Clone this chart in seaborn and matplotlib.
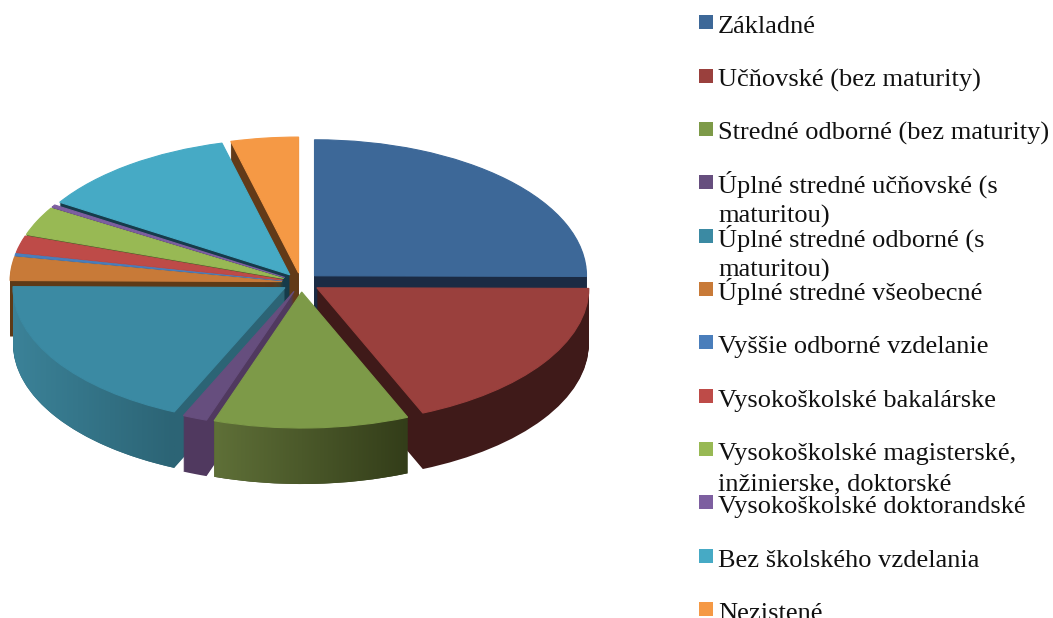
import numpy as np
import matplotlib
matplotlib.use("Agg")
import matplotlib.pyplot as plt
import seaborn as sns
from matplotlib.colors import to_rgb
from matplotlib.patches import Polygon, Rectangle

labels = [
    "Základné",
    "Učňovské (bez maturity)",
    "Stredné odborné (bez maturity)",
    "Úplné stredné učňovské (s\nmaturitou)",
    "Úplné stredné odborné (s\nmaturitou)",
    "Úplné stredné všeobecné",
    "Vyššie odborné vzdelanie",
    "Vysokoškolské bakalárske",
    "Vysokoškolské magisterské,\ninžinierske, doktorské",
    "Vysokoškolské doktorandské",
    "Bez školského vzdelania",
    "Nezistené",
]
shares = [25.0, 18.5, 11.55, 1.45, 18.4, 2.8, 0.3, 2.0, 3.4, 0.3, 12.0, 4.0]
top_colors = ["#3d6898", "#9a403d", "#7d9a48", "#664e7e", "#3b8aa3", "#c87a38",
              "#4a7ebb", "#be4b48", "#98b954", "#7d5fa0", "#46aac5", "#f59945"]
side_colors = ["#1b2b44", "#3f1a19", "#333d19", "#50395f", "#2c6475", "#5e3a17",
               "#26405e", "#5e2523", "#4c5c2a", "#3e2f50", "#163b4a", "#623a18"]
# rim shading (left colour, right colour) for the slices that show it
rim_shades = {2: ("#5f7038", "#333d19"), 4: ("#3b8298", "#2c6475")}

W, H = 1053, 618
CX, CY, RX, RY = 301, 282.5, 272, 136
DEPTH = 56
EXPLODE = 0.07

sns.set_theme(style="white")
plt.rcParams["font.family"] = ["Liberation Serif", "DejaVu Serif"]

fig = plt.figure(figsize=(W / 100, H / 100), dpi=100)
ax = fig.add_axes([0, 0, 1, 1])
limits = dict(xlim=(-CX / RX, (W - CX) / RX), ylim=(-(H - CY) / RY, CY / RY))


def draw_layer(colors, drop, z):
    wedges, _ = ax.pie(
        shares, colors=colors, explode=[EXPLODE] * len(shares),
        startangle=90, counterclock=False, center=(0, -drop / RY),
        wedgeprops={"linewidth": 0.8, "edgecolor": "none", "zorder": z},
    )
    return wedges


# extrude: lower layers first, then the rim shading, then the top face
for k in range(DEPTH, 0, -1):
    draw_layer(side_colors, k, DEPTH - k + 1)

tops = draw_layer(sns.color_palette(top_colors), 0, DEPTH + 5)
for w in tops:
    w.set_edgecolor(w.get_facecolor())
ax.set_aspect("auto")
ax.set(**limits)
ax.set_axis_off()

for i, (left, right) in rim_shades.items():
    w = tops[i]
    th = np.radians(np.linspace(w.theta1, w.theta2, 60))
    xs = w.center[0] + w.r * np.cos(th)
    ys = w.center[1] + w.r * np.sin(th)
    drop = DEPTH / RY
    poly = np.r_[np.c_[xs, ys], np.c_[xs, ys - drop][::-1]]
    clip = Polygon(poly, closed=True, transform=ax.transData, facecolor="none", edgecolor="none")
    ax.add_patch(clip)
    ramp = np.linspace(to_rgb(left), to_rgb(right), 128)[None, :, :]
    im = ax.imshow(ramp, extent=(xs.min(), xs.max(), ys.min() - drop, ys.max()),
                   aspect="auto", zorder=DEPTH + 2, interpolation="bilinear")
    im.set_clip_path(clip)
ax.set_aspect("auto")
ax.set(**limits)

# legend, in pixel coordinates because the rows overlap like in the source
leg = fig.add_axes([0, 0, 1, 1], facecolor="none")
leg.set_xlim(0, W)
leg.set_ylim(H, 0)
leg.set_axis_off()
row_y = [22, 76, 129, 182, 236, 289, 342, 396, 449, 502, 556, 609]
for name, color, y in zip(labels, top_colors, row_y):
    leg.add_patch(Rectangle((699, y - 7), 14, 14, facecolor=color, edgecolor="none"))
    for j, line in enumerate(name.split("\n")):
        leg.text(718, y + 11 + j * 30, line, fontsize=19, color="#111111",
                 va="baseline", ha="left", clip_on=False)

fig.savefig("out.png", dpi=100, facecolor="white")
plt.close(fig)
